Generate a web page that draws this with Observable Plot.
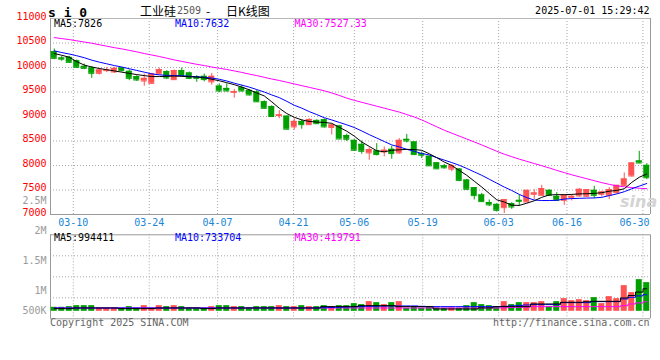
<!DOCTYPE html>
<html><head><meta charset="utf-8">
<script src="https://cdn.jsdelivr.net/npm/d3@7"></script>
<script src="https://cdn.jsdelivr.net/npm/@observablehq/plot@0.6"></script>
<style>
body{margin:0;background:#fff;}
#wrap{position:relative;width:660px;height:360px;overflow:hidden;background:#fff;}
#wrap svg{position:absolute;left:0;}
.t{position:absolute;white-space:pre;line-height:1;}
</style></head><body><div id="wrap"></div>
<script>
// ---------- data ----------
const dates = ["03-05","03-06","03-07","03-10","03-11","03-12","03-13","03-14","03-17","03-18","03-19","03-20","03-21","03-24","03-25","03-26","03-27","03-28","03-31",
"04-01","04-02","04-03","04-07","04-08","04-09","04-10","04-11","04-14","04-15","04-16","04-17","04-18","04-21","04-22","04-23","04-24","04-25","04-28","04-29","04-30",
"05-06","05-07","05-08","05-09","05-12","05-13","05-14","05-15","05-16","05-19","05-20","05-21","05-22","05-23","05-26","05-27","05-28","05-29","05-30",
"06-03","06-04","06-05","06-06","06-09","06-10","06-11","06-12","06-13","06-16","06-17","06-18","06-19","06-20","06-23","06-24","06-25","06-26","06-27","06-30",
"07-01"];
const open = [10323,10194,10207,10139,10024,9990,9881,9935,9908,9990,
9922,9813,9724,9677,9867,9915,9752,9935,9888,9813,
9820,9707,9620,9573,9493,9587,9533,9500,9300,9200,
9020,9007,8787,8900,8833,8920,8933,8778,8807,8610,
8513,8432,8257,8297,8277,8331,8257,8534,8480,8243,
8189,8054,7993,7926,7926,7703,7547,7399,7243,7207,
7139,7221,7289,7255,7412,7391,7493,7371,7289,7350,
7378,7371,7493,7412,7391,7446,7595,7786,8092,8003];
const high = [10378,10228,10228,10153,10071,10017,9983,10003,10003,10003,
9949,9833,9867,9881,9990,9935,9949,9990,9908,9833,
9867,9880,9667,9667,9553,9640,9553,9533,9320,9220,
9120,9007,8953,8933,8953,8933,8953,8840,8820,8640,
8527,8500,8365,8446,8378,8392,8547,8635,8480,8277,
8189,8054,8020,8020,7939,7716,7547,7432,7297,7221,
7303,7241,7391,7493,7507,7595,7507,7446,7405,7405,
7527,7507,7575,7473,7548,7595,7847,8051,8289,8037];
const low = [10160,10126,10092,9983,9956,9779,9847,9895,9881,9908,
9731,9718,9616,9663,9847,9752,9745,9813,9752,9697,
9707,9640,9486,9507,9373,9507,9420,9287,9153,9000,
8953,8740,8720,8740,8820,8840,8767,8622,8540,8490,
8290,8230,8108,8196,8176,8128,8230,8459,8209,8142,
7993,7919,7926,7872,7669,7500,7297,7250,7162,7051,
7017,7105,7167,7241,7303,7377,7371,7269,7187,7276,
7357,7357,7323,7357,7303,7425,7575,7765,8037,7711];
const close = [10187,10170,10105,10003,9983,9881,9949,9949,9983,9935,
9779,9745,9779,9867,9956,9786,9935,9833,9779,9779,
9753,9820,9520,9520,9507,9520,9440,9300,9167,9000,
9033,8740,8900,8833,8940,8853,8787,8826,8540,8535,
8311,8290,8324,8223,8311,8243,8513,8500,8223,8209,
7993,7932,7953,7993,7696,7514,7385,7263,7196,7085,
7303,7153,7269,7493,7439,7527,7391,7289,7391,7371,
7514,7507,7391,7459,7507,7595,7725,8051,8051,7750];
const ma5 = [10285,10250,10210,10120,10050,10010,9980,9955,9930,9905,
9880,9855,9835,9815,9815,9820,9825,9820,9810,9805,
9790,9760,9730,9690,9650,9600,9545,9480,9420,9300,
9170,9060,8985,8930,8900,8885,8880,8860,8780,8700,
8600,8480,8390,8300,8280,8310,8320,8330,8325,8310,
8240,8160,8070,8000,7900,7800,7680,7560,7430,7300,
7255,7190,7185,7230,7280,7350,7400,7405,7405,7410,
7420,7425,7430,7445,7475,7492,7525,7655,7760,7826];
const ma10 = [10340,10305,10275,10240,10200,10150,10110,10075,10040,10010,
9975,9940,9905,9870,9850,9840,9835,9833,9822,9810,
9800,9785,9760,9725,9680,9640,9600,9550,9500,9440,
9385,9310,9230,9170,9100,9040,8975,8930,8880,8830,
8775,8705,8630,8560,8490,8420,8380,8330,8290,8245,
8215,8160,8110,8060,8005,7940,7870,7800,7720,7640,
7560,7490,7410,7345,7295,7285,7285,7290,7315,7325,
7330,7335,7338,7350,7385,7420,7465,7525,7580,7632];
const ma30 = [10610,10590,10570,10545,10520,10495,10465,10435,10405,10380,
10350,10320,10285,10255,10225,10190,10155,10125,10095,10065,
10040,10010,9985,9960,9930,9900,9865,9835,9800,9765,
9735,9700,9665,9630,9595,9560,9525,9480,9430,9375,
9330,9290,9250,9210,9170,9130,9090,9040,8990,8930,
8860,8790,8720,8660,8600,8540,8480,8420,8355,8290,
8230,8180,8130,8085,8040,7995,7950,7900,7855,7810,
7770,7730,7690,7650,7615,7585,7565,7550,7535,7527];
// volume in thousands
const volumeK = [177,177,206,250,250,250,133,133,133,133,
206,133,250,133,250,206,250,206,133,133,
133,206,250,250,206,206,133,206,206,206,
250,206,206,250,206,206,250,206,250,250,
339,295,427,383,295,383,427,133,206,133,
206,147,133,147,133,250,383,295,250,206,
427,295,383,383,383,427,206,427,560,471,
515,471,604,339,648,560,1134,825,1399,1267];
const volMa5K = [118,118,118,147,147,147,147,147,147,118,
118,118,118,118,147,147,147,147,147,147,
118,118,147,147,147,147,147,147,147,147,
147,147,147,147,147,147,206,206,206,206,
206,250,250,250,250,250,206,206,206,206,
206,103,103,103,103,103,103,150,150,206,
206,206,206,206,324,324,324,324,398,398,
398,420,442,442,442,442,589,700,850,994];
const volMa10K = [147,147,147,147,147,147,147,147,147,147,
147,147,147,147,147,147,147,147,147,147,
147,147,147,147,147,147,147,147,147,147,
147,147,147,147,147,147,160,170,180,190,
200,210,220,225,230,236,236,236,236,220,
210,206,206,206,206,206,206,206,206,206,
220,240,260,280,295,295,295,295,383,383,
383,383,427,427,427,427,545,619,680,734];
const volMa30K = [147,147,147,147,147,147,147,147,147,147,
147,147,147,147,147,147,147,147,147,147,
147,147,147,147,147,147,147,147,147,147,
147,147,147,147,147,147,147,147,147,147,
147,147,147,147,147,147,147,147,147,147,
147,147,147,147,147,147,147,147,147,147,
155,165,175,185,206,206,206,206,206,206,
206,206,206,206,206,206,250,324,370,420];
const priceTicks = [7000,7500,8000,8500,9000,9500,10000,10500,11000];
const tickDates = ["03-10","03-24","04-07","04-21","05-06","05-19","06-03","06-16","06-30"];
const volTickLabels = ["2.5M","2M","1.5M","1M","500K"];
const priceMaLabels = ["MA5:7826","MA10:7632","MA30:7527.33"];
const volMaLabels = ["MA5:994411","MA10:733704","MA30:419791"];
const titleParts = ["s i 0","工业硅","2509","-","日K线图"];
const timeStamp = "2025-07-01 15:29:42";
const footer = ["Copyright 2025 SINA.COM","http://finance.sina.com.cn"];

// ---------- styles / layout ----------
const MONO = '"DejaVu Sans Mono","Liberation Mono",monospace';
const CJK = '"Noto Sans CJK SC","Noto Sans",sans-serif';
const RED = "#ff5353", GREEN = "#00a000";
const GRID = "#a8a8a8", BORDER = "#9a9a9a", TICKBLUE = "#1a86d6";
const maColors = ["#000000","#0000ff","#ff00ff"];

const N = dates.length;
const rows = dates.map((date,i)=>({
  i, date, o:open[i], h:high[i], l:low[i], c:close[i],
  color: close[i] >= open[i] ? RED : GREEN,
  ma5:ma5[i], ma10:ma10[i], ma30:ma30[i],
  v: volumeK[i]*1000, vm5: volMa5K[i]*1000, vm10: volMa10K[i]*1000, vm30: volMa30K[i]*1000
}));
const xDomain = [-0.5, N-0.5];
const tickIdx = tickDates.map(t => dates.indexOf(t));
const gridX = tickIdx.map(k => k*N/(N-1) - 0.5);
const half = 0.4;

const wrap = document.getElementById("wrap");

// ---------- price panel ----------
const price = Plot.plot({
  width:660, height:232, marginLeft:50, marginRight:10, marginTop:18, marginBottom:18,
  style:{background:"transparent"},
  x:{domain:xDomain, axis:null},
  y:{domain:[7000,11000], axis:null},
  color:{type:"identity"},
  marks:[
    Plot.ruleY(priceTicks.slice(1,-1), {stroke:GRID, strokeDasharray:"1,2"}),
    Plot.ruleX(gridX, {stroke:GRID, strokeDasharray:"1,2"}),
    Plot.ruleY([11000], {stroke:"#b8b8b8"}),
    Plot.ruleY([7000], {stroke:BORDER}),
    Plot.ruleX(xDomain, {stroke:BORDER}),
    Plot.ruleX(rows, {x:"i", y1:"l", y2:"h", stroke:"color"}),
    Plot.rect(rows, {x1:d=>d.i-half, x2:d=>d.i+half, y1:d=>Math.min(d.o,d.c), y2:d=>Math.max(d.o,d.c), fill:"color"}),
    Plot.ruleY(rows, {y:"o", x1:d=>d.i-half, x2:d=>d.i+half, stroke:"color"}),
    Plot.ruleY(rows, {y:"c", x1:d=>d.i-half, x2:d=>d.i+half, stroke:"color"}),
    Plot.line(rows, {x:"i", y:"ma30", stroke:maColors[2], strokeWidth:1}),
    Plot.line(rows, {x:"i", y:"ma10", stroke:maColors[1], strokeWidth:1}),
    Plot.line(rows, {x:"i", y:"ma5", stroke:maColors[0], strokeWidth:1}),
    Plot.text(priceTicks, {x:xDomain[0], y:d=>d, text:d=>String(d), textAnchor:"end", dx:-4, dy:-2,
      fill:"#ff0000", fontFamily:MONO, fontSize:10}),
    Plot.text(tickDates.slice(0,-1), {x:(d,k)=>gridX[k], y:7000, dy:8, text:d=>d,
      fill:TICKBLUE, fontFamily:MONO, fontSize:10}),
    Plot.text(tickDates.slice(-1), {x:xDomain[1], y:7000, dy:8, dx:-1, text:d=>d, textAnchor:"end",
      fill:TICKBLUE, fontFamily:MONO, fontSize:10})
  ]
});
price.style.top = "0px";
wrap.appendChild(price);

// ---------- volume panel ----------
const vDomain = [-331500, 3381000];
const vGrid = [1,2,3].map(k => vDomain[1] - (vDomain[1]-vDomain[0])*k/4);
const vol = Plot.plot({
  width:660, height:134, marginLeft:50, marginRight:10, marginTop:8.3, marginBottom:41.7,
  style:{background:"transparent"},
  x:{domain:xDomain, axis:null},
  y:{domain:vDomain, axis:null},
  color:{type:"identity"},
  marks:[
    Plot.ruleY(vGrid, {stroke:GRID, strokeDasharray:"1,2"}),
    Plot.ruleX(gridX, {stroke:GRID, strokeDasharray:"1,2"}),
    Plot.ruleY(vDomain, {stroke:BORDER}),
    Plot.ruleX(xDomain, {stroke:BORDER}),
    Plot.rect(rows, {x1:d=>d.i-half, x2:d=>d.i+half, y1:0, y2:"v", fill:"color"}),
    Plot.line(rows, {x:"i", y:"vm30", stroke:maColors[2], strokeWidth:1, curve:"step"}),
    Plot.line(rows, {x:"i", y:"vm10", stroke:maColors[1], strokeWidth:1, curve:"step"}),
    Plot.line(rows, {x:"i", y:"vm5", stroke:maColors[0], strokeWidth:1, curve:"step"})
  ]
});
vol.style.top = "226px";
wrap.appendChild(vol);

// ---------- html text ----------
function label(text, x, y, o={}){
  const el = document.createElement("div");
  el.className = "t";
  el.textContent = text;
  const anchor = o.anchor || "start";
  Object.assign(el.style, {
    left:x+"px", top:y+"px", color:o.color||"#000", fontSize:(o.size||10)+"px",
    fontWeight:o.weight||"normal", fontFamily:o.family||MONO, fontStyle:o.style||"normal"
  });
  el.style.transform = `translate(${anchor==="end"?"-100%":anchor==="middle"?"-50%":"0"},-50%)`;
  wrap.appendChild(el);
  return el;
}
// title row
label(titleParts[0], 48, 11.5, {size:13, weight:"bold"});
label(titleParts[1], 140, 10.5, {size:12, family:CJK});
label(titleParts[2], 177, 10.5, {size:10, color:"#555"});
label(titleParts[3], 206, 10.5, {size:12, family:CJK});
label(titleParts[4], 226, 10.5, {size:12, family:CJK});
label(timeStamp, 649.5, 11.3, {anchor:"end"});
// MA legends
const maX = [54, 175, 294.5];
priceMaLabels.forEach((t,k)=>label(t, maX[k], 24, {color:maColors[k]}));
volMaLabels.forEach((t,k)=>label(t, maX[k], 238.3, {color:maColors[k]}));
// volume axis labels (as drawn in the original)
const volLabelY = [200.7, 231, 260.7, 290.7, 310.7];
volTickLabels.forEach((t,k)=>label(t, 46.5, volLabelY[k], {anchor:"end", color:"#9a9a9a"}));
// footer
label(footer[0], 50, 323.3, {color:"#666"});
label(footer[1], 649.5, 323.3, {anchor:"end", color:"#666"});
// watermark
label("sina", 620, 202, {size:16, weight:"bold", style:"italic", color:"#d4d4d4", family:'"DejaVu Sans",sans-serif'});
</script>
</body></html>
